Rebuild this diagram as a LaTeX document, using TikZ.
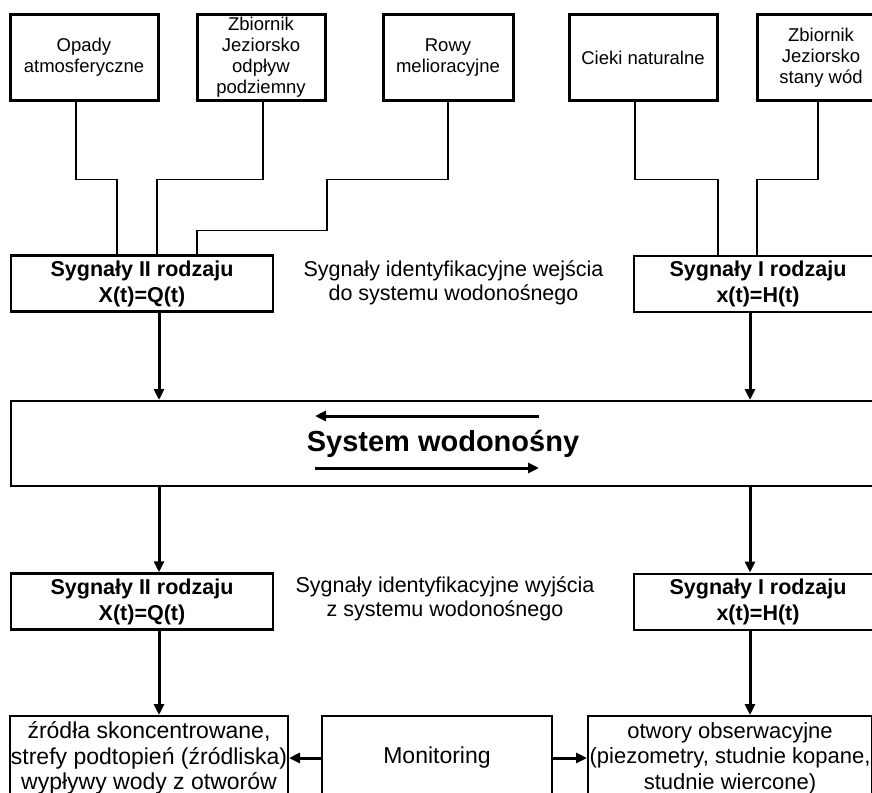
\documentclass[tikz,border=0pt]{standalone}
\usepackage{fontspec}
\setmainfont{Liberation Sans}
\usetikzlibrary{arrows.meta,positioning,calc}

\begin{document}
\begin{tikzpicture}[
  x=1pt,y=-1pt,
  every node/.style={align=center,inner sep=0pt},
  source/.style={draw,line width=3pt,minimum width=148pt,minimum height=85pt,font=\fontsize{18.5}{21}\selectfont},
  signal/.style={draw,line width=2pt,minimum width=262pt,minimum height=56pt,font=\fontsize{21.5}{26}\selectfont\bfseries},
  note/.style={font=\fontsize{21.5}{24}\selectfont},
  aquifer/.style={draw,line width=2pt,minimum width=864pt,minimum height=85pt,font=\fontsize{29}{34}\selectfont\bfseries},
  sink/.style={draw,line width=2pt,minimum height=84pt,font=\fontsize{23}{25.5}\selectfont},
  link/.style={line width=1.5pt},
  arr/.style={line width=3pt,-{Triangle[length=11pt,width=10pt]}}
]
\useasboundingbox (0,0) rectangle (872,792);

\node[source] (opady) at (84,57.5) {Opady\\atmosferyczne};
\node[source,minimum width=128pt] (zbodp) at (261,57.5) {Zbiornik\\Jeziorsko\\odpływ\\podziemny};
\node[source,minimum width=130pt] (rowy) at (448,57.5) {Rowy\\melioracyjne};
\node[source] (cieki) at (643,57.5) {Cieki naturalne};
\node[source,minimum width=128pt] (zbstan) at (821,57.5) {Zbiornik\\Jeziorsko\\stany wód};

\node[signal,line width=2.5pt] (sigIIin) at (142,283.5) {Sygnały II rodzaju\\X(t)=Q(t)};
\node[signal,minimum width=248pt] (sigIin) at (758,283.5) {Sygnały I rodzaju\\x(t)=H(t)};
\node[note] (notein) at (453.5,283) {Sygnały identyfikacyjne wejścia\\do systemu wodonośnego};

\node[aquifer] (system) at (443,443.5) {System wodonośny};

\node[signal,line width=2.5pt] (sigIIout) at (142,601.5) {Sygnały II rodzaju\\X(t)=Q(t)};
\node[signal,minimum width=248pt] (sigIout) at (758,601.5) {Sygnały I rodzaju\\x(t)=H(t)};
\node[note] (noteout) at (445,599) {Sygnały identyfikacyjne wyjścia\\z systemu wodonośnego};

\node[sink,minimum width=278pt] (springs) at (149,758) {źródła skoncentrowane,\\strefy podtopień (źródliska)\\wypływy wody z otworów};
\node[sink,minimum width=230pt] (monit) at (437,758) {Monitoring};
\node[sink,minimum width=284pt,font=\fontsize{22}{25.5}\selectfont] (wells) at (730,758) {otwory obserwacyjne\\(piezometry, studnie kopane,\\studnie wiercone)};

\draw[link] ([xshift=-8pt]opady.south) -- ++(0,78) -| ([xshift=-25pt]sigIIin.north);
\draw[link] ([xshift=2pt]zbodp.south) -- ++(0,78) -| ([xshift=15pt]sigIIin.north);
\draw[link] (rowy.south) -- ++(0,78) -| ++(-121,51) -| ([xshift=55pt]sigIIin.north);
\draw[link] ([xshift=-8pt]cieki.south) -- ++(0,78) -| ([xshift=-40pt]sigIin.north);
\draw[link] ([xshift=-3pt]zbstan.south) -- ++(0,78) -| ([xshift=-1pt]sigIin.north);

\coordinate (colL) at (159,0);
\coordinate (colR) at (750,0);
\draw[arr] (sigIIin.south -| colL) -- (system.north -| colL);
\draw[arr] (sigIin.south -| colR) -- (system.north -| colR);
\draw[arr] (system.south -| colL) -- (sigIIout.north -| colL);
\draw[arr] (system.south -| colR) -- (sigIout.north -| colR);
\draw[arr] (sigIIout.south -| colL) -- (springs.north -| colL);
\draw[arr] (sigIout.south -| colR) -- (wells.north -| colR);

\coordinate (backA) at (539,416);
\coordinate (backB) at (315,416);
\coordinate (fwdA) at (315,468);
\coordinate (fwdB) at (539,468);
\draw[arr] (backA) -- (backB);
\draw[arr] (fwdA) -- (fwdB);

\draw[arr] (monit.west) -- (springs.east);
\draw[arr] (monit.east) -- (wells.west);
\end{tikzpicture}
\end{document}
